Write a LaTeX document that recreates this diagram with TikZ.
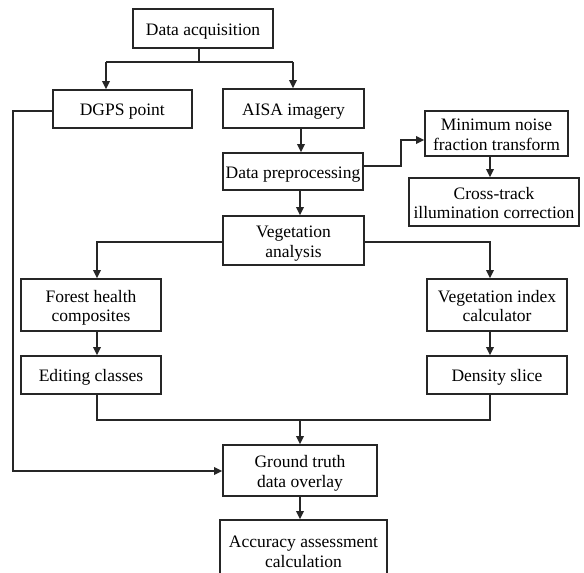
\documentclass[tikz,border=0pt]{standalone}
\usepackage{fontspec}
\setmainfont{Liberation Serif}
\usetikzlibrary{arrows.meta}
\tikzset{
  box/.style n args={2}{draw=black!85, line width=1.7pt, minimum width=#1, minimum height=#2,
    inner sep=0pt, align=center, text height=17pt, text depth=4pt, font=\fontsize{17.5}{19.5}\selectfont},
  boxtwo/.style n args={2}{box={#1}{#2}, text height=37pt, text depth=4pt},
  conn/.style={draw=black!85, line width=1.7pt},
  arr/.style={conn, -{Triangle[length=8pt,width=7.5pt]}}
}
\begin{document}
\begin{tikzpicture}[x=1pt,y=-1pt]
\useasboundingbox (0,0) rectangle (584,573);
\clip (0,0) rectangle (584,573);
\fill[white] (0,0) rectangle (584,573);

\node[box={140pt}{39pt}] (acq) at (203,28.5) {Data acquisition};
\node[box={139pt}{38pt}] (dgps) at (122.3,109) {DGPS point};
\node[box={141pt}{39pt}] (aisa) at (293.5,108.5) {AISA imagery};
\node[box={140pt}{37pt}] (prep) at (293,171.5) {Data preprocessing};
\node[boxtwo={143pt}{45pt}] (mnf) at (496.5,133.5) {Minimum noise\\fraction transform};
\node[boxtwo={170pt}{48pt}] (cross) at (494,202) {Cross-track\\illumination correction};
\node[boxtwo={141pt}{49pt}] (veg) at (293.5,240.5) {Vegetation\\analysis};
\node[boxtwo={140pt}{52pt}] (forest) at (91,305) {Forest health\\composites};
\node[boxtwo={140pt}{52pt}] (index) at (497,305) {Vegetation index\\calculator};
\node[box={140pt}{38pt}] (edit) at (91,375) {Editing classes};
\node[box={140pt}{38pt}] (dens) at (497,375) {Density slice};
\node[boxtwo={154pt}{51pt}] (ground) at (300,470.5) {Ground truth\\data overlay};
\node[boxtwo={167pt}{61pt}] (acc) at (303.5,550.5) {Accuracy assessment\\calculation};

% data acquisition split
\coordinate (j0) at (199,62);
\coordinate (jl) at (106,62);
\coordinate (jr) at (293,62);
\draw[conn] (acq.south -| j0) -- (j0);
\draw[conn] (jl) -- (jr);
\draw[arr] (jl) -- (jl |- dgps.north);
\draw[arr] (jr) -- (jr |- aisa.north);

% DGPS to ground truth
\coordinate (dl) at (13,111);
\coordinate (db) at (13,471);
\draw[arr] (dgps.west |- dl) -- (dl) -- (db) -- (ground.west |- db);

% AISA -> preprocessing
\coordinate (xa) at (301,0);
\draw[arr] (aisa.south -| xa) -- (prep.north -| xa);

% preprocessing -> MNF
\coordinate (p1) at (401,166);
\coordinate (p2) at (401,140);
\draw[arr] (prep.east |- p1) -- (p1) -- (p2) -- (mnf.west |- p2);

% MNF -> cross-track
\coordinate (xm) at (490,0);
\draw[arr] (mnf.south -| xm) -- (cross.north -| xm);

% preprocessing -> vegetation
\coordinate (xv) at (300,0);
\draw[arr] (prep.south -| xv) -- (veg.north -| xv);

% vegetation split
\coordinate (vl) at (97,242);
\coordinate (vr) at (490,242);
\draw[arr] (veg.west |- vl) -- (vl) -- (vl |- forest.north);
\draw[arr] (veg.east |- vr) -- (vr) -- (vr |- index.north);

% chains
\draw[arr] (forest.south -| vl) -- (edit.north -| vl);
\draw[arr] (index.south -| vr) -- (dens.north -| vr);

% merge
\coordinate (ml) at (97,420);
\coordinate (mr) at (490,420);
\coordinate (mc) at (300,420);
\draw[conn] (edit.south -| ml) -- (ml) -- (mr) -- (dens.south -| mr);
\draw[arr] (mc) -- (ground.north -| mc);

% ground -> accuracy
\draw[arr] (ground.south -| xv) -- (acc.north -| xv);
\end{tikzpicture}
\end{document}
